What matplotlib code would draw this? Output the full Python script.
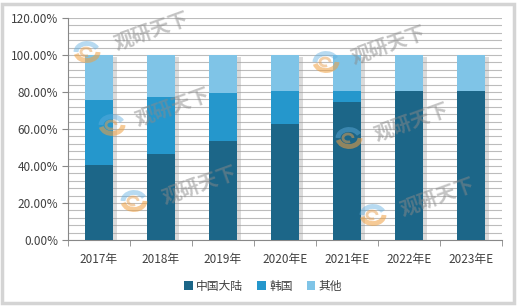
import matplotlib.pyplot as plt
import numpy as np
from matplotlib.patches import Rectangle, Arc
from matplotlib.ticker import MultipleLocator, PercentFormatter

plt.rcParams['font.family'] = ['Noto Sans CJK SC', 'DejaVu Sans']

years = ['2017年', '2018年', '2019年', '2020年E', '2021年E', '2022年E', '2023年E']
china = np.array([40.5, 46.5, 53.5, 62.7, 74.6, 80.5, 80.5])
korea = np.array([35.2, 31.0, 26.1, 17.8, 5.9, 0.0, 0.0])
other = 100 - china - korea

fig = plt.figure(figsize=(5.2, 3.07), dpi=100)
# frame around the chart
fig.patches.append(Rectangle((0.004, 0.012), 0.985, 0.975, transform=fig.transFigure,
                             fill=False, edgecolor='#d4d4d4', linewidth=2.5))
ax = fig.add_axes([0.1308, 0.2182, 0.8346, 0.7232])

x = np.arange(len(years))
w = 0.45
# shadows
ax.bar(x + 0.06, china + korea + other, w, bottom=-1.2, color='#9a9a9a', alpha=0.35, zorder=2)
ax.bar(x, china, w, color='#1c6688', label='中国大陆', zorder=3)
ax.bar(x, korea, w, bottom=china, color='#2597cc', label='韩国', zorder=3)
ax.bar(x, other, w, bottom=china + korea, color='#7fc4e7', label='其他', zorder=3)

ax.set_ylim(0, 120)
ax.set_xlim(-0.5, len(years) - 0.5)
ax.yaxis.set_major_locator(MultipleLocator(20))
ax.yaxis.set_minor_locator(MultipleLocator(4))
ax.yaxis.set_major_formatter(PercentFormatter(decimals=2))
ax.grid(axis='y', which='both', color='#bcbcbc', linewidth=0.8, zorder=0)
ax.set_axisbelow(True)

ax.set_xticks(x)
ax.set_xticklabels(years, fontsize=8.5, color='#404040')
ax.set_xticks(np.arange(-0.5, len(years)), minor=True)
ax.tick_params(axis='x', which='major', length=0, pad=9)
ax.tick_params(axis='x', which='minor', length=4, color='#888888')
ax.tick_params(axis='y', which='major', length=4, color='#888888', labelsize=8.5,
               labelcolor='#404040', pad=3)
ax.tick_params(axis='y', which='minor', length=0)

for s in ['top', 'right']:
    ax.spines[s].set_visible(False)
for s in ['left', 'bottom']:
    ax.spines[s].set_color('#888888')

# watermarks (pixel positions, origin top-left)
marks = [((152, 31), (87, 52)), ((173, 107), (112, 125)), ((200, 185), (134, 201)),
         ((389, 45), (326, 62)), ((412, 122), (349, 138)), ((438, 197), (373, 215))]
for (tx, ty), (lx, ly) in marks:
    fig.text(tx / 520, 1 - ty / 307, '观研天下', fontsize=14, color='#8a8a8a', alpha=0.5,
             rotation=20, ha='center', va='center', fontweight='bold', zorder=5)
    cx, cy = lx / 100, (307 - ly) / 100
    fig.add_artist(Arc((cx, cy), 0.22, 0.17, theta1=190, theta2=360,
                       transform=fig.dpi_scale_trans, color='#f0a040', lw=3.5, alpha=0.55))
    fig.add_artist(Arc((cx, cy), 0.22, 0.17, theta1=20, theta2=180,
                       transform=fig.dpi_scale_trans, color='#60aee0', lw=3.5, alpha=0.45))
    fig.add_artist(Arc((cx - 0.01, cy), 0.1, 0.08, theta1=0, theta2=300,
                       transform=fig.dpi_scale_trans, color='#e8a050', lw=2, alpha=0.5))

ax.legend(loc='upper center', bbox_to_anchor=(0.45, -0.13), ncol=3, frameon=False,
          fontsize=8.5, handlelength=0.7, handleheight=0.7, handletextpad=0.3,
          columnspacing=1.2, labelcolor='#404040')

plt.savefig('out.png', dpi=100)
